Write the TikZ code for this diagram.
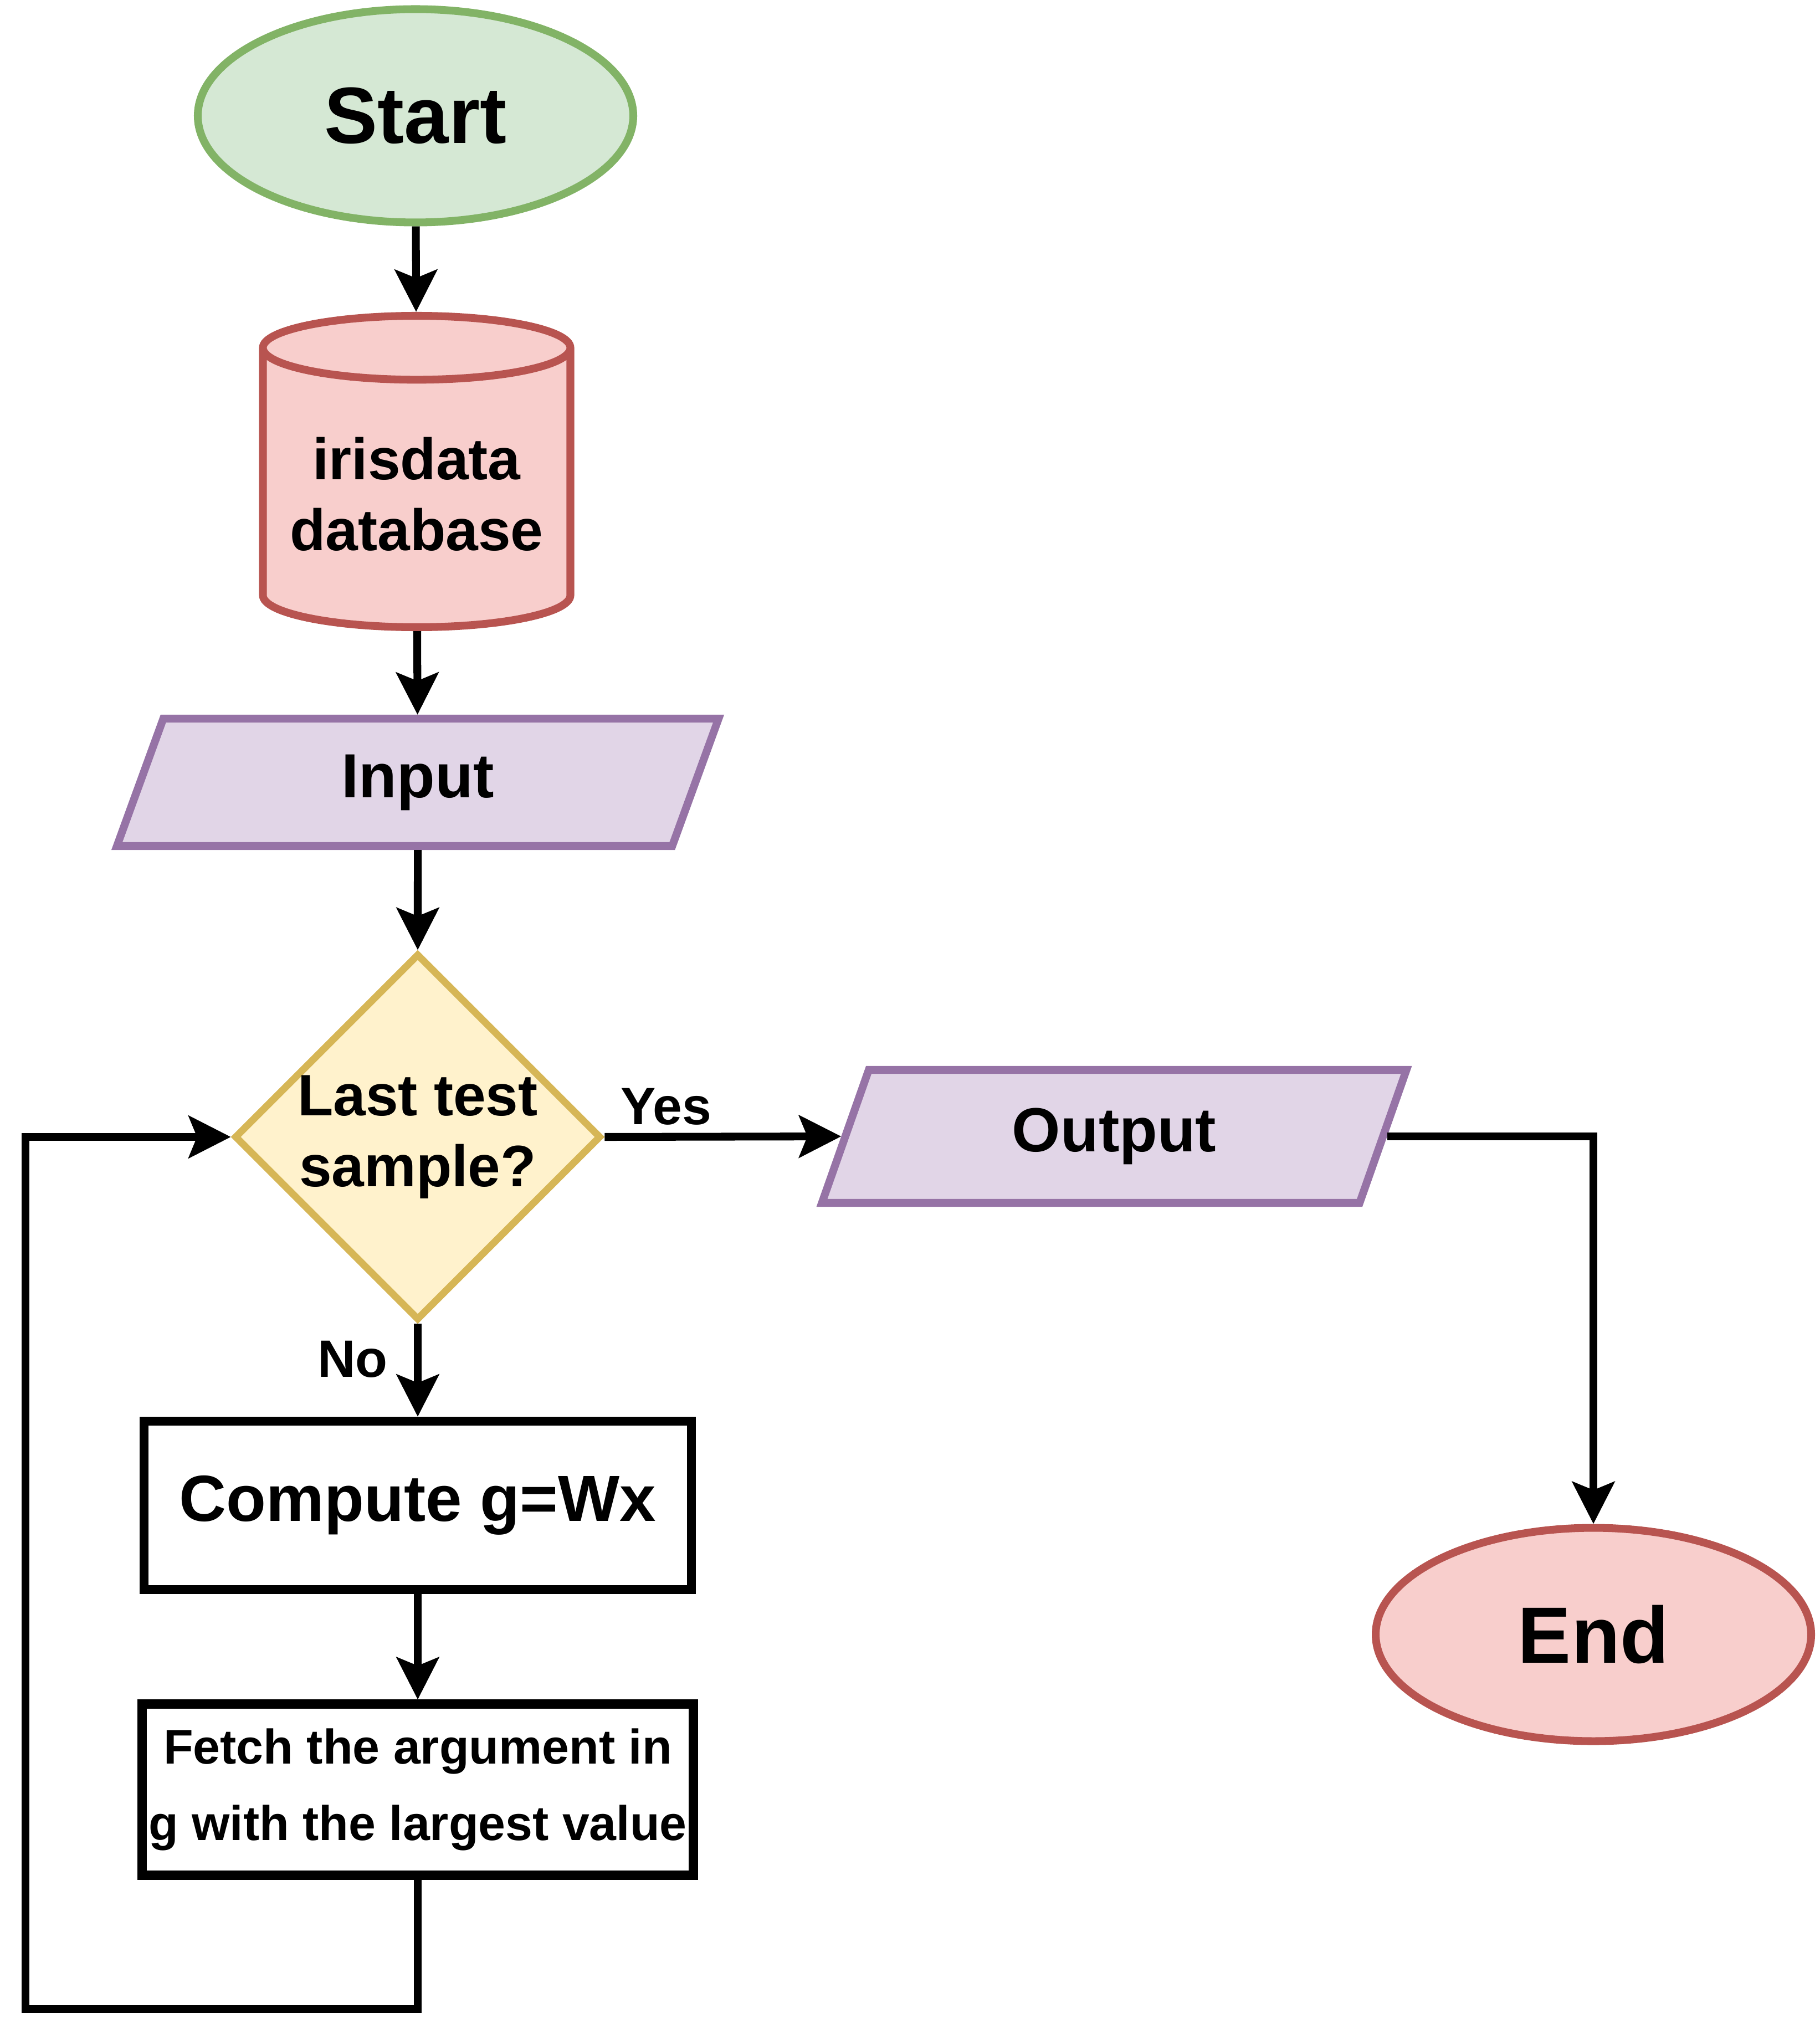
\documentclass[tikz,border=0pt]{standalone}
\usepackage{fontspec}
\setmainfont{Liberation Sans}
\usepackage{xcolor}
\usepackage{tikz}
\usetikzlibrary{positioning,shapes,shapes.geometric,arrows.meta}
\definecolor{greenfill}{HTML}{D5E8D4}
\definecolor{greenline}{HTML}{82B366}
\definecolor{redfill}{HTML}{F8CECC}
\definecolor{redline}{HTML}{B85450}
\definecolor{purplefill}{HTML}{E1D5E7}
\definecolor{purpleline}{HTML}{9673A6}
\definecolor{yellowfill}{HTML}{FFF2CC}
\definecolor{yellowline}{HTML}{D6B656}
\tikzset{
    terminal/.style={ellipse, draw, line width=4pt, minimum width=7.86cm, minimum height=3.85cm, font=\fontsize{41}{49}\selectfont\bfseries},
    db/.style={cylinder, draw=redline, fill=redfill, line width=4pt, shape border rotate=90, minimum width=5.55cm, minimum height=5.62cm, aspect=0.24, align=center, font=\fontsize{30}{36.5}\selectfont\bfseries},
    io/.style={trapezium, trapezium left angle=56, trapezium right angle=124, trapezium stretches body, draw=purpleline, fill=purplefill, line width=4pt, font=\fontsize{32}{38}\selectfont\bfseries},
    decision/.style={diamond, aspect=1, draw=yellowline, fill=yellowfill, line width=3.6pt, inner sep=0pt, minimum width=6.62cm, minimum height=6.62cm, align=center, font=\fontsize{30}{36.5}\selectfont\bfseries},
    process/.style={rectangle, draw, line width=4.6pt, minimum width=9.88cm, align=center},
    arrow/.style={-{Stealth[length=0.76cm, width=0.76cm, inset=0.15cm]}, line width=4pt},
    edgelabel/.style={font=\fontsize{27}{32}\selectfont\bfseries, inner sep=2pt}
}
\begin{document}
\begin{tikzpicture}
\useasboundingbox (0,0) rectangle (32.84,-36.44);

% Main column
\node[terminal, draw=greenline, fill=greenfill] (start) at (7.50,-2.09) {Start};
\node[db, anchor=shape center] (iris) at (7.52,-8.51) {irisdata\\database};
\node[io, minimum width=10.86cm, minimum height=2.30cm] (input) at (7.54,-14.12) {Input};
\node[decision] (last) at (7.54,-20.52) {Last test\\sample?};
\node[process, minimum height=3.04cm, font=\fontsize{33.5}{40}\selectfont\bfseries] (compute) at (7.54,-27.17) {Compute g=Wx};
\node[process, minimum height=3.09cm, font=\fontsize{25}{39.5}\selectfont\bfseries] (fetch) at (7.54,-32.30) {Fetch the argument in\\g with the largest value};

% Right column
\node[io, minimum width=10.55cm, minimum height=2.40cm] (output) at (20.11,-20.51) {Output};
\node[terminal, draw=redline, fill=redfill] (end) at (28.76,-29.50) {End};

\coordinate (loopcorner) at (0.46,-36.26);

% Connectors
\draw[arrow] (start) -- (iris);
\draw[arrow] (iris) -- (input);
\draw[arrow] (input) -- (last);
\draw[arrow] (last.east) -- node[edgelabel, above=2pt, pos=0.26] (yes) {Yes} (output.west);
\draw[arrow] (last.south) -- node[edgelabel, left=0.4cm, pos=0.38] (no) {No} (compute.north);
\draw[arrow] (compute) -- (fetch);
\draw[arrow] (fetch.south) |- (loopcorner) |- (last.west);
\draw[arrow] (output.east) -| (end.north);

\end{tikzpicture}
\end{document}
